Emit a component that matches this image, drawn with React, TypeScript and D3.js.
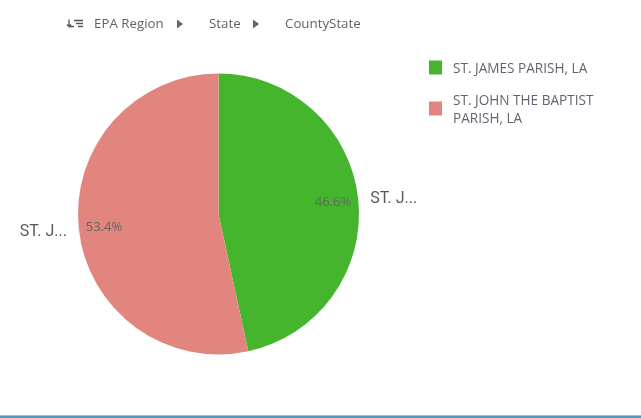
import React from 'react'
import * as d3 from 'd3'

const categories = ['ST. JAMES PARISH, LA', 'ST. JOHN THE BAPTIST PARISH, LA']
const values = [46.6, 53.4]
const sliceLabels = ['St. J...', 'St. J...'].map(d => d.toUpperCase())
const percentLabels = ['46.6%', '53.4%']
const colors = ['#45b52f', '#e2857f']
const drillPath = ['EPA Region', 'State', 'CountyState']

const width = 641
const height = 418
const cx = 218.5
const cy = 214
const radius = 140.5

const font = '"Open Sans", Roboto, sans-serif'

const App = () => {
    const pie = d3.pie<number>().sort(null)
    const arcs = pie(values)
    const arc = d3.arc<d3.PieArcDatum<number>>().innerRadius(0).outerRadius(radius)
    const percentArc = d3.arc<d3.PieArcDatum<number>>().innerRadius(radius * 0.82).outerRadius(radius * 0.82)
    const labelArc = d3.arc<d3.PieArcDatum<number>>().innerRadius(radius + 12).outerRadius(radius + 12)

    const legendLines = [[categories[0]], ['ST. JOHN THE BAPTIST', 'PARISH, LA']]
    const legendY = [68, 109]

    return (
        <svg width={width} height={height} style={{ position: 'absolute', left: 0, top: 0, background: '#fff' }}>
            <defs>
                <filter id="soft" x="-5%" y="-5%" width="110%" height="110%">
                    <feGaussianBlur stdDeviation="0.55" />
                </filter>
            </defs>
            <g filter="url(#soft)">
                {/* drill path */}
                <g fill="#555" stroke="#555">
                    <path d="M69 20v7h5M67 25l2.500 2.500M71 25l-2 2.500" fill="none" strokeWidth={1.3} transform="translate(0,-0.500)" />
                    <path d="M74 20.500h9M76 23.500h7M78 26.500h5" fill="none" strokeWidth={1.3} />
                </g>
                {drillPath.map((d, i) => (
                    <text key={d} x={[94, 209, 285][i]} y={28} fontFamily={font} fontSize={13.3} fill="#5f6368">{d}</text>
                ))}
                {[177, 253].map(x => (
                    <path key={x} d={`M${x} 19.500l6 4.500l-6 4.500z`} fill="#666" />
                ))}

                {/* pie */}
                <g transform={`translate(${cx},${cy})`}>
                    {arcs.map((d, i) => (
                        <path key={i} d={arc(d) ?? ''} fill={colors[i]} />
                    ))}
                    {arcs.map((d, i) => {
                        const [x, y] = percentArc.centroid(d)
                        return (
                            <text key={i} x={x} y={y} textAnchor="middle" dy="0.35em" fontFamily={font} fontSize={13} fill="#666">
                                {percentLabels[i]}
                            </text>
                        )
                    })}
                    {arcs.map((d, i) => {
                        const [x, y] = labelArc.centroid(d)
                        return (
                            <text key={i} x={x} y={y} textAnchor={i === 0 ? 'start' : 'end'} dy="0.35em" fontFamily={'Roboto, sans-serif'} fontSize={16} fill="#595959">
                                {sliceLabels[i]}
                            </text>
                        )
                    })}
                </g>

                {/* legend */}
                {categories.map((c, i) => (
                    <g key={c}>
                        <rect x={429} y={legendY[i] - 7.5} width={13} height={14} fill={colors[i]} />
                        {legendLines[i].map((t, j) => (
                            <text
                                key={t}
                                x={453}
                                y={legendY[i] + 4.5 + (j - (legendLines[i].length - 1) / 2) * 18}
                                fontFamily={font}
                                fontSize={13.6}
                                fill="#5f6570"
                            >
                                {t}
                            </text>
                        ))}
                    </g>
                ))}
            </g>

            {/* bottom border of the page */}
            <rect x={0} y={415} width={width} height={1} fill="#9fc0d8" />
            <rect x={0} y={416} width={width} height={2} fill="#5b93bb" />
        </svg>
    )
}

export default App
